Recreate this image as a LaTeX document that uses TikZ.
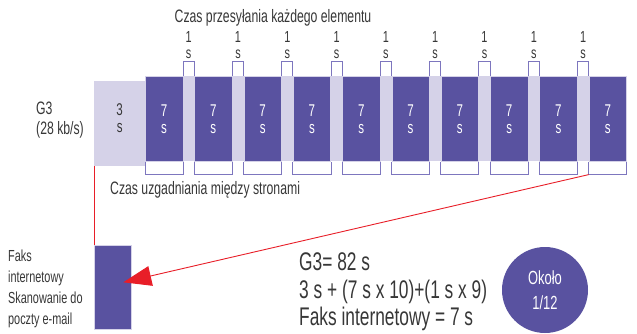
\documentclass[tikz,border=0pt]{standalone}
\usepackage{fontspec}
\setmainfont{Liberation Sans}[FakeStretch=0.68]
\usetikzlibrary{calc,positioning,arrows.meta}
\definecolor{faxdark}{RGB}{89,82,160}
\definecolor{faxlight}{RGB}{213,210,232}
\definecolor{faxline}{RGB}{125,118,190}
\definecolor{faxtext}{RGB}{55,55,55}
\definecolor{faxred}{RGB}{232,30,40}
\begin{document}
\begin{tikzpicture}[x=1pt,y=-1pt,
  every node/.style={text=faxtext,inner sep=0pt},
  label/.style={font=\fontsize{16}{16.5}\selectfont,align=center},
  slot/.style={fill=faxdark,draw=faxlight,line width=0.6pt,anchor=north west,
    minimum width=37.5,minimum height=85,text=white,align=center,
    font=\fontsize{17}{17}\selectfont},
  brace/.style={faxline,line width=1pt}]
\useasboundingbox (0,0) rectangle (637,334);
\fill[faxlight] (145,76) rectangle (626,161);
\node[fill=faxlight,anchor=north west,minimum width=51,minimum height=85] (shake) at (94,81) {};
\node[align=center,font=\fontsize{17}{17}\selectfont] (shakelbl) at ($(shake.center)+(0,-6)$) {3\\s};
\foreach \i in {0,...,9}
  \node[slot] (b\i) at ({145+\i*49.3},76) {7\\s};
\foreach \i [count=\j] in {0,...,8} {
  \draw[brace] (b\i.north east) -- ++(0,-14) -| (b\j.north west);
  \node[label] at ($(b\i.north east)!.5!(b\j.north west)+(0,-31)$) {1\\s};
}
\foreach \i in {0,...,9}
  \draw[brace] (b\i.south west) -- ++(0,13) coordinate (s\i) -| (b\i.south east);
\node[font=\fontsize{18}{18}\selectfont] (sendtime) at (273,18)
  {Czas przesyłania każdego elementu};
\node[font=\fontsize{18}{18}\selectfont,anchor=west] (shaketime) at (110,190)
  {Czas uzgadniania między stronami};
\node[anchor=west,align=left,font=\fontsize{18}{20}\selectfont] (g3) at (36,120)
  {G3\\(28 kb/s)};
\node[fill=faxdark,draw=faxlight,line width=0.6pt,anchor=north west,
  minimum width=37,minimum height=84] (fax) at (94,245) {};
\node[anchor=west,align=left,font=\fontsize{16}{21}\selectfont] (faxtxt) at (8,289)
  {Faks\\internetowy\\Skanowanie do\\poczty e-mail};
\draw[faxred,line width=0.8pt] (shake.south west) -- (fax.north west);
\coordinate (tip) at ($(fax.center)+(10.5,-5)$);
\draw[faxred,line width=0.9pt,-{Triangle[length=28pt,width=20pt]}] (s9) -- (tip);
\node[anchor=west,align=left,font=\fontsize{25.5}{27.5}\selectfont] (sum) at (299,292)
  {G3= 82 s\\3 s + (7 s x 10)+(1 s x 9)\\Faks internetowy = 7 s};
\node[circle,fill=faxdark,minimum size=86,text=white,align=center,
  font=\fontsize{19}{25}\selectfont] (ratio) at (545,290) {Około\\1/12};
\end{tikzpicture}
\end{document}
